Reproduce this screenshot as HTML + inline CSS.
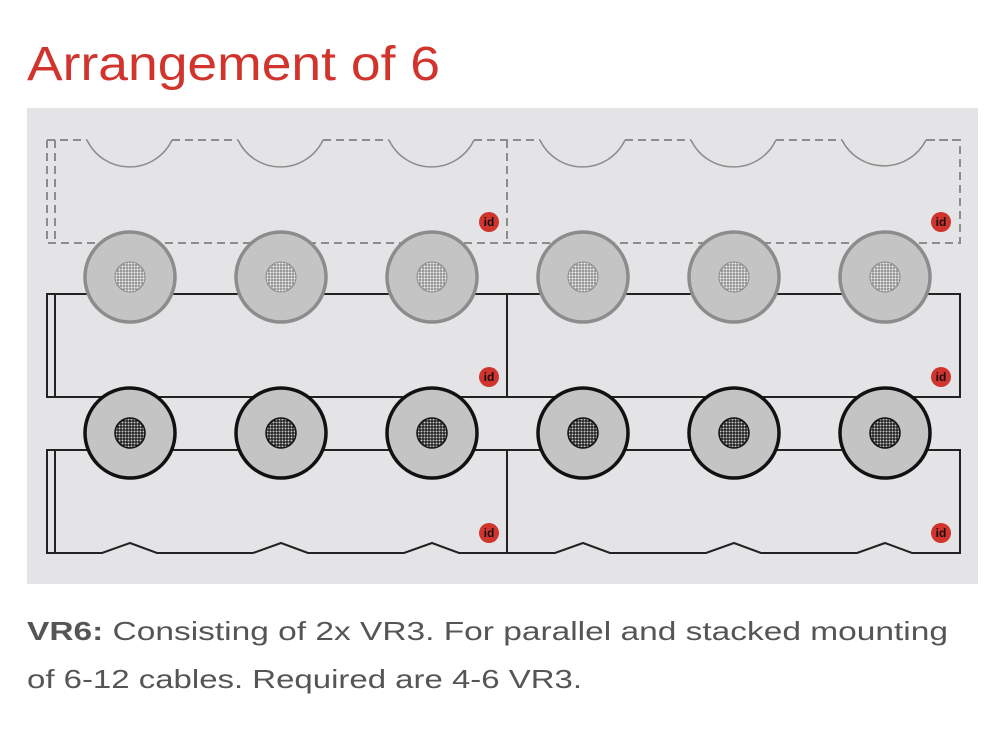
<!DOCTYPE html>
<html><head><meta charset="utf-8"><style>html,body{margin:0;padding:0;background:#fff;}svg{display:block}</style></head>
<body>
<svg width="1008" height="742" viewBox="0 0 1008 742" xmlns="http://www.w3.org/2000/svg">
<defs>
<pattern id="m1" width="3" height="3" patternUnits="userSpaceOnUse"><rect width="3" height="3" fill="#8a8a8a"/><circle cx="1.5" cy="1.5" r="1.1" fill="#f2f2f2"/></pattern>
<pattern id="m2" width="3" height="3" patternUnits="userSpaceOnUse"><rect width="3" height="3" fill="#222"/><circle cx="1.5" cy="1.5" r="1.0" fill="#c8c8c8"/></pattern>
<g id="id"><circle r="10" fill="#d0342c"/><text x="0" y="4" font-family="Liberation Sans, sans-serif" font-weight="bold" font-size="12" text-anchor="middle" fill="#111">id</text></g>
</defs>
<text x="27" y="80" font-family="Liberation Sans, sans-serif" font-size="48" fill="#d0342c" textLength="413" lengthAdjust="spacingAndGlyphs">Arrangement of 6</text>
<rect x="27" y="108" width="951" height="476" fill="#e4e4e6"/>
<g fill="none" stroke="#8c8c8c" stroke-width="2" stroke-dasharray="8,5">
<path d="M47 140 V243 H960 V140 H926 M507 140 V243"/>
<path d="M55 140 V243"/>
<path d="M47 140 H87 M172 140 H238 M323 140 H389 M474 140 H540 M625 140 H691 M776 140 H842 M926 140 H960"/>
</g>
<g fill="none" stroke="#8c8c8c" stroke-width="1.5">
<path d="M87 140 A47 47 0 0 0 172 140 M238 140 A47 47 0 0 0 323 140 M389 140 A47 47 0 0 0 474 140 M540 140 A47 47 0 0 0 625 140 M691 140 A47 47 0 0 0 776 140 M842 140 A47 47 0 0 0 926 140"/>
</g>
<g fill="none" stroke="#222" stroke-width="2">
<path d="M47 294 H960 V397 H47 Z M55 294 V397 M507 294 V397"/>
<path d="M47 450 H960 V553 H47 Z M55 450 V553"/>
</g>
<rect x="48" y="545" width="911" height="12" fill="#e4e4e6"/>
<path d="M47 553 H102 L130 543 L157 553 H253 L281 543 L308 553 H404 L432 543 L459 553 H555 L583 543 L610 553 H706 L734 543 L761 553 H857 L885 543 L912 553 H960 V450" fill="none" stroke="#222" stroke-width="2"/>
<path d="M47 450 V553 M55 450 V553 M507 450 V553" stroke="#222" stroke-width="2"/>
<g stroke="#8c8c8c">
<g transform="translate(130,277)"><circle r="45" fill="#c4c4c4" stroke-width="3.5"/><circle r="15" fill="url(#m1)" stroke-width="1"/></g>
<g transform="translate(281,277)"><circle r="45" fill="#c4c4c4" stroke-width="3.5"/><circle r="15" fill="url(#m1)" stroke-width="1"/></g>
<g transform="translate(432,277)"><circle r="45" fill="#c4c4c4" stroke-width="3.5"/><circle r="15" fill="url(#m1)" stroke-width="1"/></g>
<g transform="translate(583,277)"><circle r="45" fill="#c4c4c4" stroke-width="3.5"/><circle r="15" fill="url(#m1)" stroke-width="1"/></g>
<g transform="translate(734,277)"><circle r="45" fill="#c4c4c4" stroke-width="3.5"/><circle r="15" fill="url(#m1)" stroke-width="1"/></g>
<g transform="translate(885,277)"><circle r="45" fill="#c4c4c4" stroke-width="3.5"/><circle r="15" fill="url(#m1)" stroke-width="1"/></g>
</g>
<g stroke="#111">
<g transform="translate(130,433)"><circle r="45" fill="#c4c4c4" stroke-width="3.5"/><circle r="15" fill="url(#m2)" stroke-width="1.5"/></g>
<g transform="translate(281,433)"><circle r="45" fill="#c4c4c4" stroke-width="3.5"/><circle r="15" fill="url(#m2)" stroke-width="1.5"/></g>
<g transform="translate(432,433)"><circle r="45" fill="#c4c4c4" stroke-width="3.5"/><circle r="15" fill="url(#m2)" stroke-width="1.5"/></g>
<g transform="translate(583,433)"><circle r="45" fill="#c4c4c4" stroke-width="3.5"/><circle r="15" fill="url(#m2)" stroke-width="1.5"/></g>
<g transform="translate(734,433)"><circle r="45" fill="#c4c4c4" stroke-width="3.5"/><circle r="15" fill="url(#m2)" stroke-width="1.5"/></g>
<g transform="translate(885,433)"><circle r="45" fill="#c4c4c4" stroke-width="3.5"/><circle r="15" fill="url(#m2)" stroke-width="1.5"/></g>
</g>
<use href="#id" x="489" y="222"/><use href="#id" x="941" y="222"/>
<use href="#id" x="489" y="377"/><use href="#id" x="941" y="377"/>
<use href="#id" x="489" y="533"/><use href="#id" x="941" y="533"/>
<g font-family="Liberation Sans, sans-serif" font-size="26" fill="#555">
<text x="27" y="640" textLength="921" lengthAdjust="spacingAndGlyphs"><tspan font-weight="bold">VR6:</tspan> Consisting of 2x VR3. For parallel and stacked mounting</text>
<text x="27" y="688" textLength="555" lengthAdjust="spacingAndGlyphs">of 6-12 cables. Required are 4-6 VR3.</text>
</g>
</svg>
</body></html>
